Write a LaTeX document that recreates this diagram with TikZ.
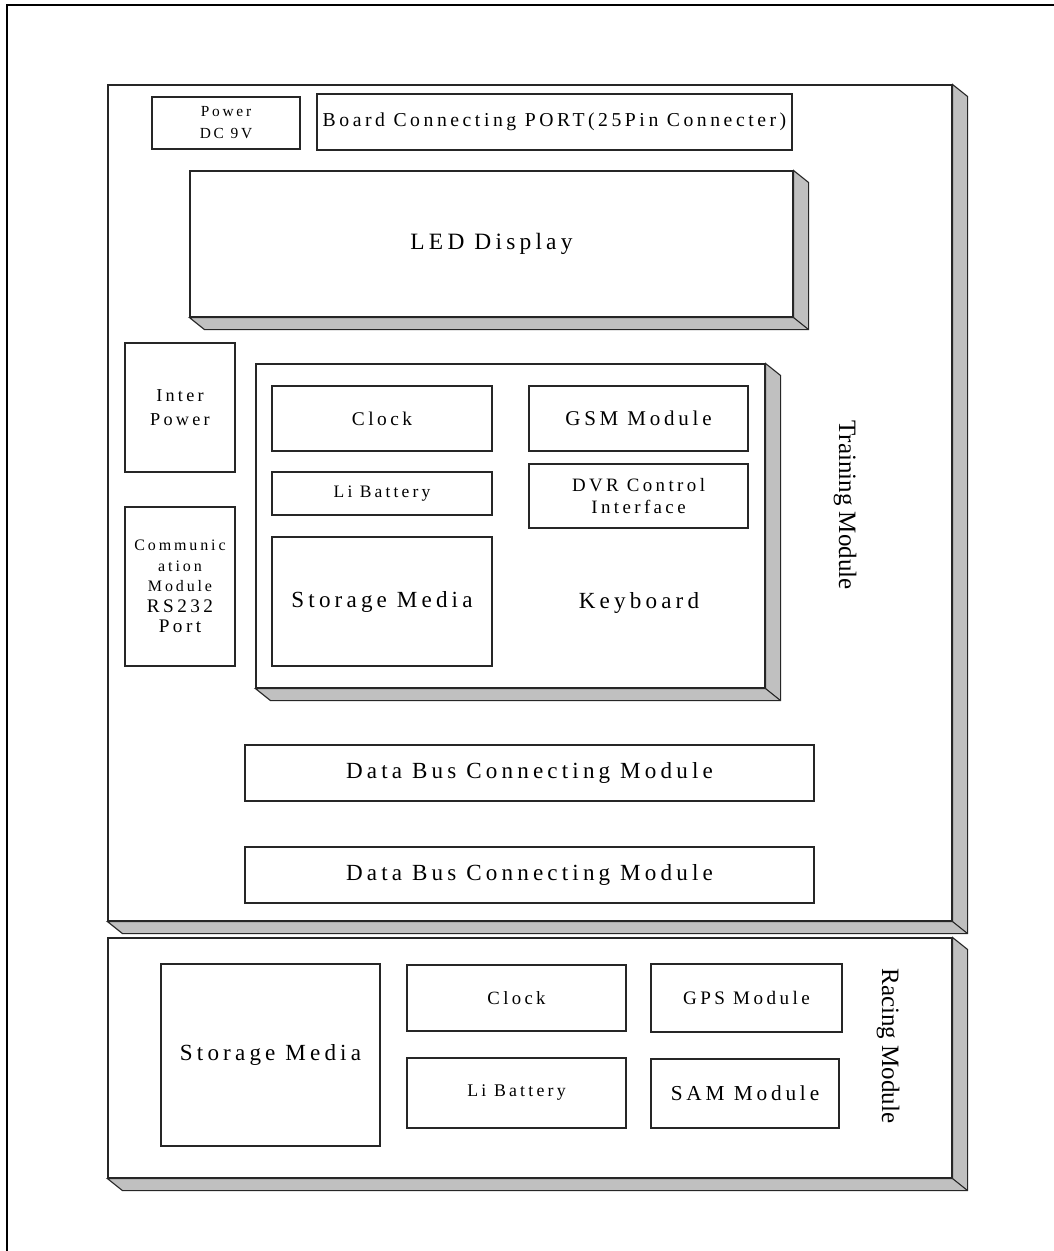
\documentclass[tikz,border=0pt]{standalone}
\usepackage{fontspec}
\setmainfont{Liberation Serif}
\newfontfamily\spc[LetterSpace=18]{Liberation Serif}
\definecolor{shadegray}{RGB}{192,192,192}
\tikzset{
  box/.style={draw=black!85, line width=1.1pt, fill=white, inner sep=0pt, align=center},
  side/.style={draw=black!85, line width=1.1pt, fill=shadegray, line join=miter},
  lbl/.style={inner sep=0pt, font=\fontsize{25}{27}\selectfont},
}
\newcommand{\fs}[2]{\fontsize{#1}{#2}\selectfont\spc}
\newcommand{\extr}[1]{%
  \draw[side] (#1.north east) -- ++(15,12) |- ([shift={(15,12)}]#1.south west) -- (#1.south west) -- (#1.south east) -- cycle;
  \draw[side] (#1.south east) -- ++(15,12);}
\begin{document}
\begin{tikzpicture}[x=1pt,y=-1pt]
\useasboundingbox (0,0) rectangle (1054,1251);
% outer frame
\coordinate (fbl) at (7,1251);
\coordinate (ftl) at (7,5);
\coordinate (ftr) at (1054,5);
\draw[line width=2.2pt] (fbl) -- (ftl) -- (ftr);

% Training module
\node[box, minimum width=844pt, minimum height=836pt] (train) at (530,503) {};
\extr{train}
% Racing module
\node[box, minimum width=844pt, minimum height=240pt] (race) at (530,1058) {};
\extr{race}

% top row
\node[box, minimum width=148pt, minimum height=52pt, font=\fs{15.4}{22}] (power) at (226,123) {Power\\DC 9V};
\node[box, minimum width=475pt, minimum height=56pt, font=\fs{19.7}{20}] (board) at (554.5,122) {Board Connecting PORT(25Pin Connecter)};

% LED display
\node[box, minimum width=603pt, minimum height=146pt, font=\fs{23.4}{24}] (led) at (491.5,244) {LED Display};
\extr{led}

% left column
\node[box, minimum width=110pt, minimum height=129pt, font=\fs{18.2}{24}] (inter) at (180,407.5) {Inter\\Power};
\node[box, minimum width=110pt, minimum height=159pt, font=\fs{16}{20.5}] (comm) at (180,586.5) {Communic\\ation\\Module\\{\fontsize{19.2}{20.5}\selectfont RS232}\\{\fontsize{19.2}{20.5}\selectfont Port}};

% inner block
\node[box, minimum width=509pt, minimum height=324pt] (inner) at (510.5,526) {};
\extr{inner}
\node[box, minimum width=220pt, minimum height=65pt, font=\fs{19.4}{20}] (clock) at (382,418.5) {Clock};
\node[box, minimum width=220pt, minimum height=43pt, font=\fs{17.5}{20}] (li) at (382,493.5) {Li Battery};
\node[box, minimum width=220pt, minimum height=129pt, font=\fs{23.1}{24}] (storage) at (382,601.5) {Storage Media};
\node[box, minimum width=219pt, minimum height=65pt, font=\fs{21}{20}] (gsm) at (638.5,418.5) {GSM Module};
\node[box, minimum width=219pt, minimum height=64pt, font=\fs{18.9}{22}] (dvr) at (638.5,496) {DVR Control\\Interface};
\node[inner sep=0pt, font=\fs{23.1}{24}] (keyboard) at (639,603) {Keyboard};

% data buses
\node[box, minimum width=569pt, minimum height=56pt, font=\fs{23.1}{24}] (bus1) at (529.5,773) {Data Bus Connecting Module};
\node[box, minimum width=569pt, minimum height=56pt, font=\fs{23.1}{24}] (bus2) at (529.5,875) {Data Bus Connecting Module};

\node[lbl, rotate=-90] (trainlbl) at (845,505) {Training Module};

% racing module content
\node[box, minimum width=219pt, minimum height=182pt, font=\fs{23.1}{24}] (rstorage) at (270.5,1055) {Storage Media};
\node[box, minimum width=219pt, minimum height=66pt, font=\fs{18.7}{20}] (rclock) at (516.5,998) {Clock};
\node[box, minimum width=219pt, minimum height=70pt, font=\fs{17.8}{20}] (rli) at (516.5,1093) {Li Battery};
\node[box, minimum width=191pt, minimum height=68pt, font=\fs{19.1}{20}] (gps) at (746.5,998) {GPS Module};
\node[box, minimum width=188pt, minimum height=69pt, font=\fs{21.3}{20}] (sam) at (745,1093.5) {SAM Module};

\node[lbl, rotate=-90] (racelbl) at (888,1046) {Racing Module};
\end{tikzpicture}
\end{document}
